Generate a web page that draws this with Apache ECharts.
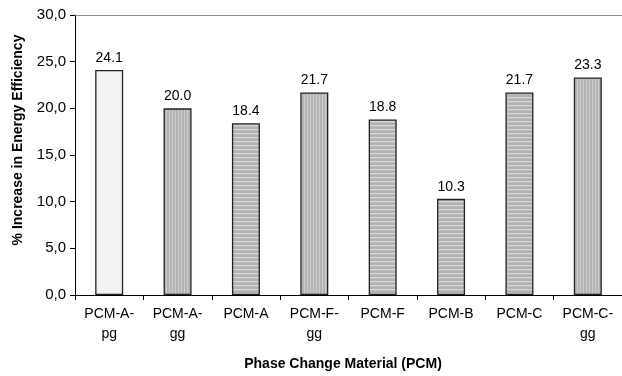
<!DOCTYPE html>
<html>
<head>
<meta charset="utf-8">
<script src="https://cdn.jsdelivr.net/npm/echarts@6/dist/echarts.min.js"></script>
<style>
  html, body { margin: 0; padding: 0; background: #fff; }
  #chart { width: 622px; height: 376px; }
</style>
</head>
<body>
<div id="chart"></div>
<script>
// Efficiency gain per phase change material
const categories = ['PCM-A-\npg', 'PCM-A-\ngg', 'PCM-A', 'PCM-F-\ngg', 'PCM-F', 'PCM-B', 'PCM-C', 'PCM-C-\ngg'];
const values = [24.1, 20.0, 18.4, 21.7, 18.8, 10.3, 21.7, 23.3];
const yTicks = { min: 0, max: 30, step: 5 };

// Fill pattern used by each bar
const fillKinds = ['light', 'vstripe', 'hstripe', 'vstripe', 'hstripe', 'hstripe', 'hstripe', 'vstripe'];

const FONT = '"Liberation Sans", Arial, sans-serif';

function makePattern(kind) {
  const c = document.createElement('canvas');
  const ctx = c.getContext('2d');
  if (kind === 'light') {
    c.width = 2; c.height = 2;
    ctx.fillStyle = '#f4f4f4'; ctx.fillRect(0, 0, 2, 2);
    ctx.fillStyle = '#ebebeb'; ctx.fillRect(0, 0, 1, 1);
  } else if (kind === 'vstripe') {
    c.width = 3; c.height = 1;
    ctx.fillStyle = '#b3b3b3'; ctx.fillRect(0, 0, 3, 1);
    ctx.fillStyle = '#cdcdcd'; ctx.fillRect(1, 0, 1, 1);
  } else {
    c.width = 1; c.height = 4;
    ctx.fillStyle = '#b2b2b2'; ctx.fillRect(0, 0, 1, 4);
    ctx.fillStyle = '#d9d9d9'; ctx.fillRect(0, 1, 1, 1);
    ctx.fillStyle = '#bdbdbd'; ctx.fillRect(0, 2, 1, 1);
  }
  return { image: c, repeat: 'repeat' };
}

const barData = values.map((v, i) => ({
  value: v,
  itemStyle: { color: makePattern(fillKinds[i]) }
}));

const chart = echarts.init(document.getElementById('chart'), null, { renderer: 'canvas' });
chart.setOption({
  animation: false,
  backgroundColor: '#ffffff',
  grid: { left: 75, top: 15, width: 555, height: 280, containLabel: false },
  xAxis: [{
    type: 'category',
    data: categories,
    position: 'bottom',
    axisLine: { lineStyle: { color: '#000', width: 1 } },
    axisTick: { show: true, alignWithLabel: false, length: 5, lineStyle: { color: '#000' } },
    axisLabel: { color: '#000', fontSize: 14, fontFamily: FONT, lineHeight: 20, margin: 9, interval: 0 },
    splitLine: { show: false }
  }, {
    type: 'category',
    data: categories,
    position: 'top',
    axisLine: { lineStyle: { color: '#8c8c8c', width: 1 } },
    axisTick: { show: false },
    axisLabel: { show: false }
  }],
  yAxis: {
    type: 'value',
    min: yTicks.min,
    max: yTicks.max,
    interval: yTicks.step,
    axisLine: { show: true, lineStyle: { color: '#000', width: 1 } },
    axisTick: { show: true, length: 5, lineStyle: { color: '#000' } },
    axisLabel: {
      color: '#000', fontSize: 15, fontFamily: FONT, margin: 9,
      formatter: v => v.toFixed(1).replace('.', ',')
    },
    splitLine: { show: false }
  },
  series: [{
    type: 'bar',
    data: barData,
    barWidth: 28,
    itemStyle: { borderColor: '#222', borderWidth: 1.3 },
    label: {
      show: true, position: 'top', distance: 5,
      color: '#000', fontSize: 14, fontFamily: FONT,
      formatter: p => p.value.toFixed(1)
    }
  }],
  graphic: [{
    type: 'text',
    x: 18, y: 140,
    rotation: Math.PI / 2,
    style: {
      text: '% Increase in Energy Efficiency',
      font: 'bold 14px ' + FONT,
      fill: '#000',
      align: 'center',
      verticalAlign: 'middle'
    }
  }, {
    type: 'text',
    x: 343, y: 364,
    style: {
      text: 'Phase Change Material (PCM)',
      font: 'bold 14px ' + FONT,
      fill: '#000',
      align: 'center',
      verticalAlign: 'middle'
    }
  }]
});
</script>
</body>
</html>
